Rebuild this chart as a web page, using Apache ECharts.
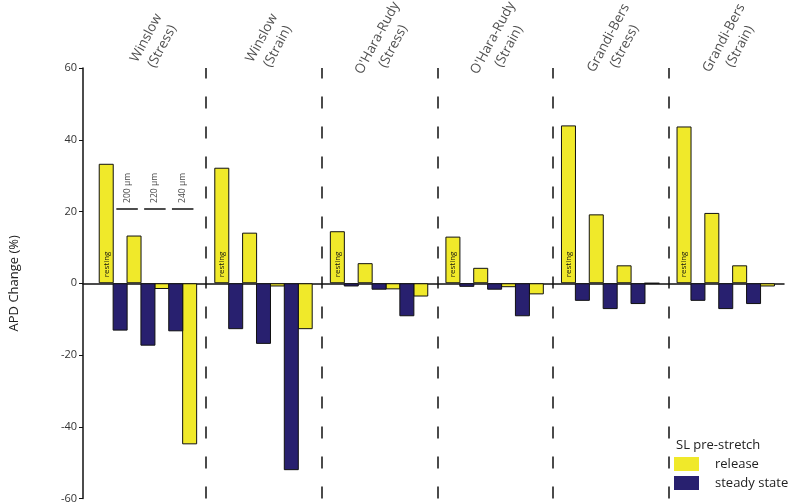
<!DOCTYPE html>
<html>
<head>
<meta charset="utf-8">
<script src="https://cdn.jsdelivr.net/npm/echarts@6/dist/echarts.min.js"></script>
<style>html,body{margin:0;padding:0;background:#fff}#c{width:800px;height:504px}</style>
</head>
<body>
<div id="c"></div>
<script>
// ---- data ----
const models = ["Winslow\n(Stress)", "Winslow\n(Strain)", "O'Hara-Rudy\n(Stress)", "O'Hara-Rudy\n(Strain)", "Grandi-Bers\n(Stress)", "Grandi-Bers\n(Strain)"];
const stretches = ["200 µm", "220 µm", "240 µm"];
const releaseResting = [33.3, 32.2, 14.5, 13.0, 44.0, 43.7];
const release200 = [13.3, 14.1, 5.6, 4.3, 19.2, 19.6];
const release220 = [-1.6, -0.9, -1.7, -1.1, 5.0, 5.0];
const release240 = [-44.9, -12.8, -3.7, -3.1, 0, -0.9];
const steady200 = [-13.2, -12.8, -0.9, -1.0, -4.9, -4.9];
const steady220 = [-17.4, -16.9, -1.8, -1.8, -7.2, -7.2];
const steady240 = [-13.4, -52.1, -9.2, -9.2, -5.8, -5.8];
const yTicks = { min: -60, max: 60, interval: 20 };

// ---- layout helpers (positions in group units) ----
const OFF = 0.135, STEP = 0.1203;
const YELLOW = '#F0E92A', NAVY = '#28206F';
const FONT = 'Open Sans';
const releaseByStretch = [release200, release220, release240];
const steadyByStretch = [steady200, steady220, steady240];

const releaseData = [], steadyData = [];
models.forEach((m, g) => {
  releaseData.push({
    value: [g + OFF, releaseResting[g]],
    label: { show: true, formatter: 'resting', position: 'insideBottom', rotate: 90,
      align: 'left', verticalAlign: 'middle', distance: 6, fontSize: 8, color: '#111', fontFamily: FONT }
  });
  for (let j = 0; j < 3; j++) {
    steadyData.push([g + OFF + (1 + 2 * j) * STEP, steadyByStretch[j][g]]);
    releaseData.push([g + OFF + (2 + 2 * j) * STEP, releaseByStretch[j][g]]);
  }
});

const stretchLabels = stretches.map((s, j) => [OFF + (1.5 + 2 * j) * STEP, 22.4, s]);
const stretchLines = stretches.map((s, j) => {
  const c = OFF + (1.5 + 2 * j) * STEP;
  return [{ coord: [c - 0.093, 20.7] }, { coord: [c + 0.093, 20.7] }];
});
const topLabels = models.map((m, g) => [g + 0.55, 67.2, m]);

const chart = echarts.init(document.getElementById('c'), null, { renderer: 'canvas' });
chart.setOption({
  animation: false,
  backgroundColor: '#fff',
  textStyle: { fontFamily: FONT },
  title: {
    text: 'SL pre-stretch', left: 671, top: 434,
    textStyle: { fontSize: 13, fontWeight: 'normal', color: '#222', fontFamily: FONT }
  },
  legend: {
    data: ['release', 'steady state'], orient: 'vertical', left: 674, top: 457, padding: 0,
    itemWidth: 25, itemHeight: 14, itemGap: 5, icon: 'rect',
    itemStyle: { borderWidth: 0 },
    textStyle: { fontSize: 13, color: '#222', fontFamily: FONT, padding: [0, 0, 0, 11] }
  },
  grid: { left: 78, right: 16, top: 68, bottom: 4, containLabel: false },
  xAxis: {
    type: 'value', min: -0.066, max: 6,
    axisLine: { show: true, onZero: true, lineStyle: { color: '#111', width: 1.5 } },
    axisTick: { show: false }, axisLabel: { show: false }, splitLine: { show: false }
  },
  yAxis: {
    type: 'value', min: yTicks.min, max: yTicks.max, interval: yTicks.interval,
    name: 'APD Change (%)', nameLocation: 'middle', nameGap: 62, nameRotate: 90,
    nameTextStyle: { fontSize: 13, color: '#222', fontFamily: FONT },
    axisLine: { show: true, onZero: false, lineStyle: { color: '#111', width: 1.5 } },
    axisTick: { show: true, length: 4, lineStyle: { color: '#111', width: 1 } },
    axisLabel: { fontSize: 11, color: '#333', margin: 6, fontFamily: FONT },
    splitLine: { show: false }
  },
  series: [
    {
      name: 'release', type: 'bar', barWidth: 15, barGap: '-100%',
      itemStyle: { color: YELLOW, borderColor: '#111', borderWidth: 1 },
      data: releaseData,
      markLine: {
        silent: true, symbol: 'none', label: { show: false },
        lineStyle: { type: [12, 18], color: '#111', width: 1.5 },
        data: [{ xAxis: 1 }, { xAxis: 2 }, { xAxis: 3 }, { xAxis: 4 }, { xAxis: 5 }]
      }
    },
    {
      name: 'steady state', type: 'bar', barWidth: 15, barGap: '-100%',
      itemStyle: { color: NAVY, borderColor: '#111', borderWidth: 1 },
      data: steadyData
    },
    {
      name: 'stretchAnno', type: 'scatter', symbolSize: 1, clip: false, silent: true,
      itemStyle: { color: 'rgba(0,0,0,0)' },
      label: { show: true, position: 'inside', rotate: 90, align: 'left', verticalAlign: 'middle',
        formatter: p => p.value[2], fontSize: 8.5, color: '#111', fontFamily: FONT },
      data: stretchLabels,
      markLine: {
        silent: true, symbol: 'none', label: { show: false },
        lineStyle: { type: 'solid', color: '#111', width: 1.5 },
        data: stretchLines
      }
    },
    {
      name: 'modelAnno', type: 'scatter', symbolSize: 1, clip: false, silent: true,
      itemStyle: { color: 'rgba(0,0,0,0)' },
      label: { show: true, position: 'inside', rotate: 62, align: 'center', verticalAlign: 'middle',
        formatter: p => p.value[2], fontSize: 13.5, lineHeight: 18, color: '#222', fontFamily: FONT },
      data: topLabels
    }
  ]
});
</script>
</body>
</html>
